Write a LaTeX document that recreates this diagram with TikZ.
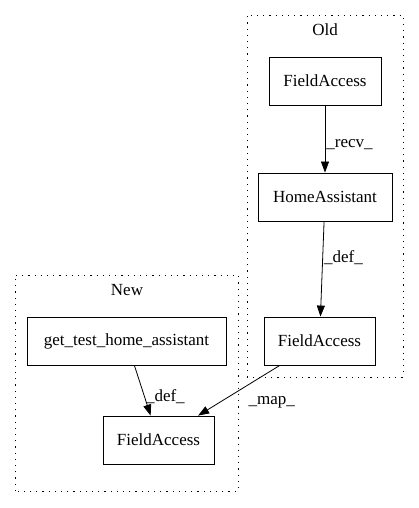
\documentclass[tikz,border=0pt]{standalone}
\usepackage{fontspec}
\setmainfont{Liberation Serif}
\usetikzlibrary{arrows.meta}
\tikzset{
  box/.style={draw, thick, rectangle, minimum height=48pt, inner sep=0pt, font=\fontsize{17}{20}\selectfont},
  cluster/.style={draw, line width=0.9pt, dash pattern=on 1.2pt off 5pt},
  lbl/.style={font=\fontsize{17}{20}\selectfont, inner sep=1pt},
  edge/.style={-{Triangle[length=11pt,width=8pt]}, thick}
}
\begin{document}
\begin{tikzpicture}[x=1pt,y=1pt]
      \useasboundingbox (0,0) rectangle (419,508);
      % clusters
      \draw[cluster] (247,131) rectangle (403,493);
      \draw[cluster] (15,17) rectangle (238,233);
      \draw
        (325,478) node[lbl] (old){Old}
        (127,218) node[lbl] (new){New};
      \draw
        (325,427) node[box, minimum width=112pt] (fa1){FieldAccess}
        (325,311) node[box, minimum width=134pt] (ha){HomeAssistant}
        (319.5,167) node[box, minimum width=111pt] (fa2){FieldAccess}
        (126.5,167) node[box, minimum width=199pt] (gtha){get\_test\_home\_assistant}
        (158.5,68) node[box, minimum width=111pt] (fa3){FieldAccess};
      \begin{scope}[edge]
        \draw (fa1) to node[lbl, anchor=west, pos=0.59] {\_recv\_} (ha);
        \draw (ha) to node[lbl, anchor=west, pos=0.385] {\_def\_} (fa2);
        \draw (gtha) to node[lbl, anchor=west, pos=0.63] {\_def\_} (fa3);
        \draw (fa2) to node[lbl, anchor=west, pos=0.73, xshift=27pt] {\_map\_} (fa3);
      \end{scope}
    \end{tikzpicture}
\end{document}
